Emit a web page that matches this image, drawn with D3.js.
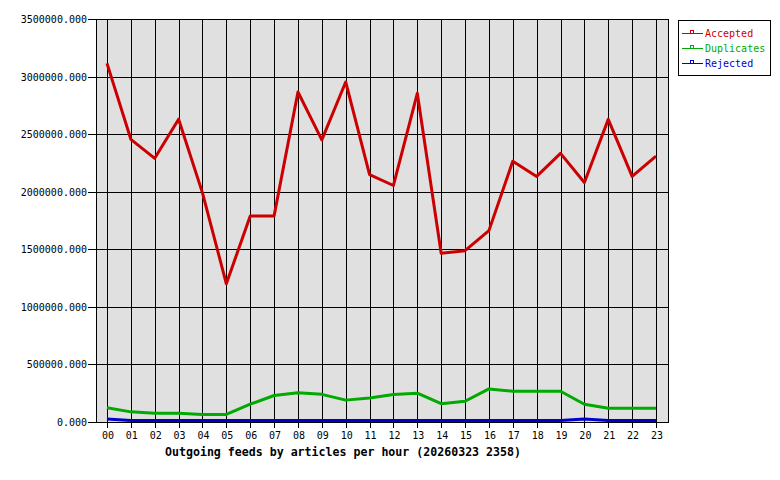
<!DOCTYPE html>
<html>
<head>
  <meta charset="utf-8">
  <script src="https://cdn.jsdelivr.net/npm/d3@7"></script>
  <style>
    body { margin: 0; background: #fff; }
    text { font-family: "DejaVu Sans Mono", monospace; }
  </style>
</head>
<body>
  <div class="chart"></div>
  <script>
    var hours = ["00","01","02","03","04","05","06","07","08","09","10","11",
                 "12","13","14","15","16","17","18","19","20","21","22","23"];
    var accepted = [3115000, 2455000, 2290000, 2630000, 1990000, 1200000, 1790000, 1790000,
                    2866000, 2450000, 2953000, 2148000, 2054000, 2855000, 1465000, 1488000,
                    1662000, 2265000, 2133000, 2333000, 2080000, 2628000, 2133000, 2310000];
    var duplicates = [124000, 88000, 76000, 76000, 66000, 66000, 155000, 230000,
                      255000, 240000, 190000, 208000, 238000, 250000, 159000, 180000,
                      287000, 267000, 267000, 267000, 154000, 119000, 119000, 119000];
    var rejected = [26000, 13000, 13000, 13000, 13000, 13000, 13000, 13000,
                    13000, 13000, 13000, 13000, 13000, 13000, 13000, 13000,
                    13000, 13000, 13000, 13000, 27000, 13000, 13000, 13000];
    var yTicks = [0, 500000, 1000000, 1500000, 2000000, 2500000, 3000000, 3500000];
    var seriesNames = ["Accepted", "Duplicates", "Rejected"];
    var seriesColors = ["#cc0000", "#00aa00", "#0000cc"];

    var width = 780, height = 480;
    var plotLeft = 96, plotRight = 668, plotTop = 19, plotBottom = 422;

    var svg = d3.select(".chart").append("svg")
      .attr("width", width)
      .attr("height", height);

    var x = d3.scalePoint().domain(hours).range([107, 656]);
    var y = d3.scaleLinear().domain([0, 3500000]).range([plotBottom, plotTop]);

    svg.append("rect")
      .attr("x", plotLeft).attr("y", plotTop)
      .attr("width", plotRight - plotLeft).attr("height", plotBottom - plotTop)
      .style("fill", "#e0e0e0");

    // grid
    svg.append("g").selectAll("line")
      .data(hours).enter().append("line")
      .attr("x1", function (d) { return Math.round(x(d)) + 0.5; })
      .attr("x2", function (d) { return Math.round(x(d)) + 0.5; })
      .attr("y1", plotTop).attr("y2", plotBottom + 6)
      .style("stroke", "#000").style("stroke-width", 1);

    svg.append("g").selectAll("line")
      .data(yTicks).enter().append("line")
      .attr("x1", plotLeft - 8).attr("x2", plotRight)
      .attr("y1", function (d) { return Math.round(y(d)) + 0.5; })
      .attr("y2", function (d) { return Math.round(y(d)) + 0.5; })
      .style("stroke", "#000").style("stroke-width", 1);

    svg.append("rect")
      .attr("x", plotLeft + 0.5).attr("y", plotTop + 0.5)
      .attr("width", plotRight - plotLeft).attr("height", plotBottom - plotTop)
      .style("fill", "none").style("stroke", "#000");

    // tick labels
    svg.append("g").selectAll("text")
      .data(yTicks).enter().append("text")
      .attr("x", plotLeft - 9)
      .attr("y", function (d) { return y(d) + 4; })
      .attr("text-anchor", "end")
      .style("font-size", "10px")
      .text(function (d) { return d3.format(".3f")(d); });

    svg.append("g").selectAll("text")
      .data(hours).enter().append("text")
      .attr("x", function (d) { return x(d) + 1; })
      .attr("y", 439)
      .attr("text-anchor", "middle")
      .style("font-size", "10px")
      .text(function (d) { return d; });

    svg.append("text")
      .attr("x", 343).attr("y", 456)
      .attr("text-anchor", "middle")
      .style("font-size", "11.6px")
      .style("font-weight", "bold")
      .text("Outgoing feeds by articles per hour (20260323 2358)");

    // series
    var line = d3.line()
      .x(function (d, i) { return x(hours[i]); })
      .y(function (d) { return y(d); });

    [accepted, duplicates, rejected].forEach(function (vals, k) {
      svg.append("path")
        .datum(vals)
        .attr("d", line)
        .style("fill", "none")
        .style("stroke", seriesColors[k])
        .style("stroke-width", 3)
        .style("stroke-linejoin", "round");
    });

    // legend
    var legend = svg.append("g");
    legend.append("rect")
      .attr("x", 678.5).attr("y", 20.5)
      .attr("width", 92).attr("height", 55)
      .style("fill", "#fff").style("stroke", "#000");

    seriesNames.forEach(function (name, k) {
      var ly = 33 + k * 15;
      legend.append("line")
        .attr("x1", 682).attr("x2", 703)
        .attr("y1", ly + 0.5).attr("y2", ly + 0.5)
        .style("stroke", seriesColors[k]);
      legend.append("rect")
        .attr("x", 690.5).attr("y", ly - 2.5)
        .attr("width", 3).attr("height", 3)
        .style("fill", "#fff").style("stroke", seriesColors[k]);
      legend.append("text")
        .attr("x", 705).attr("y", ly + 4)
        .style("font-size", "10px")
        .style("fill", seriesColors[k])
        .text(name);
    });
  </script>
</body>
</html>
